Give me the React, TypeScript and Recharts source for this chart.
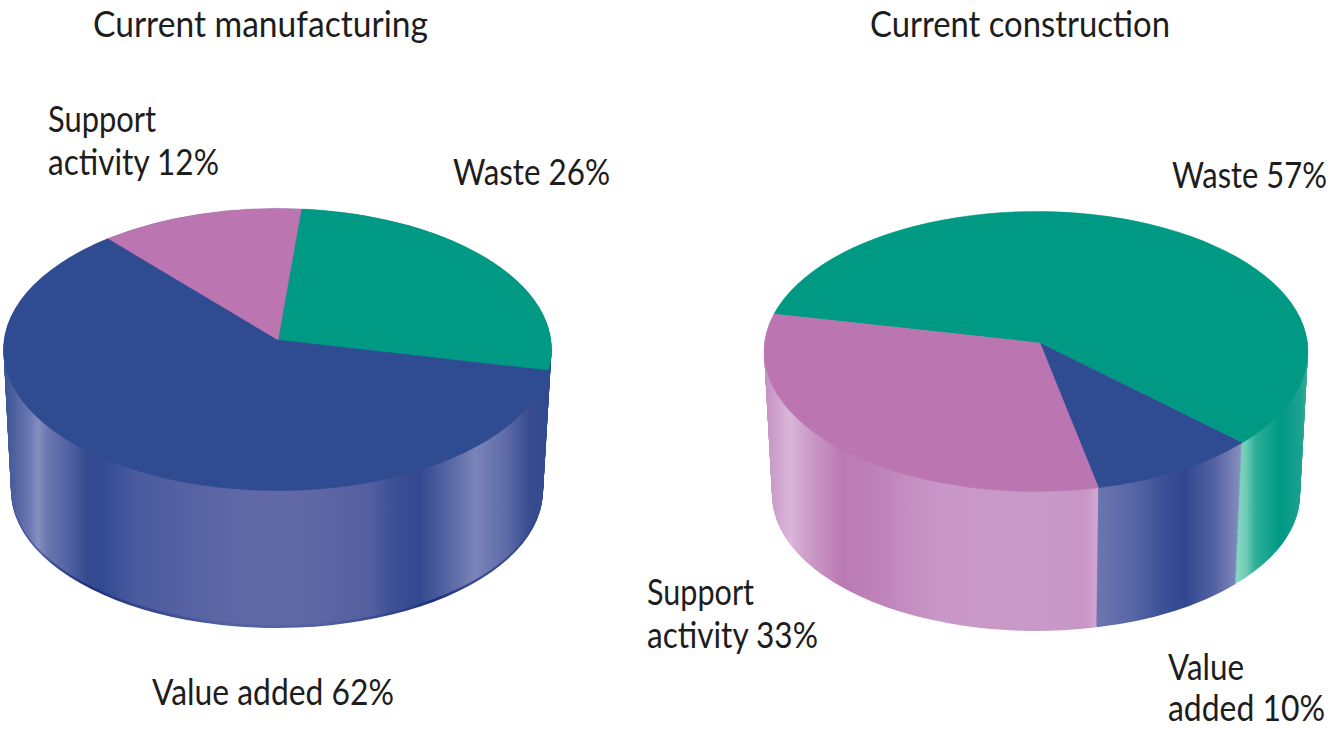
import { PieChart, Pie } from 'recharts';

// values in drawing order, clockwise from the first slice
const categories = ['Waste', 'Value added', 'Support activity'];
const manufacturingValues = [26, 62, 12];
const constructionValues = [57, 10, 33];
const labelTexts = [
  'Current manufacturing',
  'Current construction',
  'Support',
  'activity 12%',
  'Waste 26%',
  'Waste 57%',
  'Support',
  'activity 33%',
  'Value added 62%',
  'Value',
  'added 10%',
];

const topColors = ['#009a84', '#2f4b92', '#bb76b1'];

const PAGE_W = 1330;
const PAGE_H = 729;
const SQUASH = 0.515;
const LAYER_COUNT = 100;
const RIM_LAYERS = 2;
const LABEL_SIZE = 36;

// x stop, colour
const blueWallLeft = [
  [0, '#34508f'], [14, '#4e60a0'], [30, '#6d79b2'], [38, '#848ec0'], [48, '#6a76af'], [70, '#4f5fa2'], [88, '#34498f'], [100, '#2f4a92'],
  [135, '#4a5a9e'], [230, '#5f68a6'], [300, '#6268a6'], [370, '#545f9f'], [395, '#3a4f93'], [420, '#334890'],
  [450, '#5a67a5'], [475, '#7a84b8'], [505, '#5f6ca8'], [528, '#3a4d90'], [551, '#2d4a8f'],
];
const blueRimLeft = [
  [0, '#2f4589'], [40, '#4a5a9e'], [90, '#1c2f7c'], [140, '#33468d'], [230, '#5560a0'], [320, '#5560a0'],
  [390, '#33468d'], [435, '#1c2f7c'], [480, '#3d4f94'], [551, '#2a3f85'],
];
const purpleWall = [
  [764, '#c48fc0'], [780, '#d2a8d2'], [790, '#dab6d8'], [810, '#cb9ac7'], [842, '#bb7ab3'], [870, '#bd80b7'], [940, '#c998c8'],
  [1040, '#c99ac9'], [1085, '#c796c5'], [1101, '#d6abd6'],
];
const blueWallRight = [
  [1090, '#6f78b0'], [1130, '#5a68a6'], [1165, '#3a4f96'], [1185, '#31468f'], [1215, '#5563a3'], [1240, '#858ebe'],
];
const greenWall = [
  [1234, '#8fdcc8'], [1246, '#6fcbb6'], [1256, '#2cae97'], [1280, '#009a84'], [1300, '#1aa08e'], [1308, '#3fa99a'],
];

// x, baseline, width, horizontal squeeze for each label
const labelBoxes = [
  [93, 37, 335, 0.92],
  [870, 37, 300, 0.92],
  [48, 132, 108, 0.92],
  [48, 175, 171, 0.92],
  [453, 185, 157, 0.88],
  [1172, 188, 155, 0.86],
  [647, 605, 107, 0.92],
  [647, 648, 171, 0.92],
  [152, 705, 242, 0.92],
  [1168, 680, 76, 0.92],
  [1168, 721, 157, 0.88],
];

const toRad = (a: number) => (a * Math.PI) / 180;

// top face: same sector angles as the library gives, but the tip sits off centre
function makeTopShape(tipX: number, tipY: number) {
  return function TopShape(props: any) {
    const { cx, cy, outerRadius: r, startAngle, endAngle, fill } = props;
    const sx = cx + r * Math.cos(toRad(startAngle));
    const sy = cy - r * Math.sin(toRad(startAngle));
    const ex = cx + r * Math.cos(toRad(endAngle));
    const ey = cy - r * Math.sin(toRad(endAngle));
    const large = Math.abs(startAngle - endAngle) > 180 ? 1 : 0;
    const d = `M${cx + tipX},${cy + tipY} L${sx},${sy} A${r},${r} 0 ${large} 1 ${ex},${ey} Z`;
    return <path d={d} fill={fill} stroke={fill} strokeWidth={0.5} />;
  };
}

function Gradient({ id, stops, x1, x2 }: { id: string; stops: any[]; x1: number; x2: number }) {
  return (
    <linearGradient id={id} gradientUnits="userSpaceOnUse" x1={x1} y1={0} x2={x2} y2={0}>
      {stops.map(([x, c], i) => (
        <stop key={i} offset={(x - x1) / (x2 - x1)} stopColor={c} />
      ))}
    </linearGradient>
  );
}

interface Pie3dProps {
  values: number[];
  wallFills: string[];
  rimFills: string[];
  startAngle: number;
  cxTop: number;
  cyTop: number;
  rTop: number;
  cxBottom: number;
  cyBottom: number;
  rBottom: number;
  tipX: number;
  tipY: number;
}

function Pie3d(p: Pie3dProps) {
  const wallData = categories.map((name, i) => ({ name, value: p.values[i], fill: p.wallFills[i] }));
  const rimData = categories.map((name, i) => ({ name, value: p.values[i], fill: p.rimFills[i] }));
  const topData = categories.map((name, i) => ({ name, value: p.values[i], fill: topColors[i] }));
  const layers = Array.from({ length: LAYER_COUNT }, (_, i) => i);
  return (
    <>
      {layers.map((i) => {
        const t = 1 - i / (LAYER_COUNT - 1);
        return (
          <Pie
            key={i}
            data={i < RIM_LAYERS ? rimData : wallData}
            dataKey="value"
            cx={p.cxTop + (p.cxBottom - p.cxTop) * t}
            cy={(p.cyTop + (p.cyBottom - p.cyTop) * t) / SQUASH}
            outerRadius={p.rTop + (p.rBottom - p.rTop) * t}
            startAngle={p.startAngle}
            endAngle={p.startAngle - 360}
            stroke="none"
            isAnimationActive={false}
          />
        );
      })}
      <Pie
        data={topData}
        dataKey="value"
        cx={p.cxTop}
        cy={p.cyTop / SQUASH}
        outerRadius={p.rTop}
        startAngle={p.startAngle}
        endAngle={p.startAngle - 360}
        stroke="none"
        shape={makeTopShape(p.tipX, p.tipY / SQUASH)}
        isAnimationActive={false}
      />
    </>
  );
}

export default function App() {
  const chartHeight = PAGE_H / SQUASH;
  const left = Pie3d({
    values: manufacturingValues,
    wallFills: ['url(#blueL)', 'url(#blueL)', 'url(#blueL)'],
    rimFills: ['url(#rimL)', 'url(#rimL)', 'url(#rimL)'],
    startAngle: 85,
    cxTop: 277.5, cyTop: 349.5, rTop: 274,
    cxBottom: 277, cyBottom: 491, rBottom: 266,
    tipX: 0.5, tipY: -9.5,
  });
  const right = Pie3d({
    values: constructionValues,
    wallFills: ['url(#green)', 'url(#blueR)', 'url(#purple)'],
    rimFills: ['url(#green)', 'url(#blueR)', 'url(#purple)'],
    startAngle: 164.5,
    cxTop: 1036, cyTop: 351.5, rTop: 272,
    cxBottom: 1036, cyBottom: 495, rBottom: 264,
    tipX: 4, tipY: -8.5,
  });
  return (
    <div style={{ position: 'absolute', left: 0, top: 0, width: PAGE_W, height: PAGE_H, background: '#fff', overflow: 'hidden' }}>
      <div style={{ position: 'absolute', left: 0, top: 0, transformOrigin: '0 0', transform: `scaleY(${SQUASH})` }}>
        <PieChart width={PAGE_W} height={chartHeight} margin={{ top: 0, right: 0, bottom: 0, left: 0 }}>
          <defs>
            <Gradient id="blueL" stops={blueWallLeft} x1={0} x2={551} />
            <Gradient id="rimL" stops={blueRimLeft} x1={0} x2={551} />
            <Gradient id="purple" stops={purpleWall} x1={764} x2={1101} />
            <Gradient id="blueR" stops={blueWallRight} x1={1090} x2={1240} />
            <Gradient id="green" stops={greenWall} x1={1234} x2={1308} />
          </defs>
          {left}
          {right}
        </PieChart>
      </div>
      <svg width={PAGE_W} height={PAGE_H} style={{ position: 'absolute', left: 0, top: 0 }}>
        {labelTexts.map((text, i) => {
          const [x, y, w, squeeze] = labelBoxes[i];
          return (
            <text
              key={i}
              transform={`translate(${x},${y}) scale(${squeeze},1)`}
              textLength={w / squeeze}
              lengthAdjust="spacingAndGlyphs"
              fontFamily="Lato, sans-serif"
              fontSize={LABEL_SIZE}
              fill="#1d1d1d"
            >
              {text}
            </text>
          );
        })}
      </svg>
    </div>
  );
}
